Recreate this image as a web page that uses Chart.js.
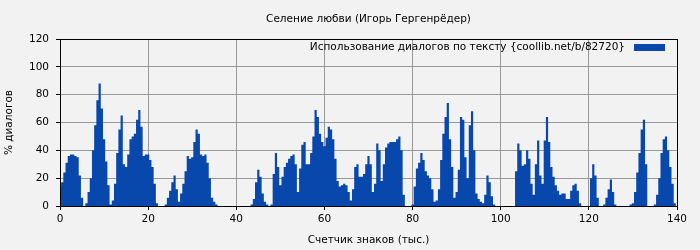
<!DOCTYPE html>
<html>
<head>
<meta charset="utf-8">
<script src="https://cdn.jsdelivr.net/npm/chart.js@4"></script>
<style>
  html, body { margin: 0; padding: 0; background: #f2f2f2; }
  #wrap { width: 700px; height: 250px; }
</style>
</head>
<body>
<div id="wrap"><canvas id="chart" width="700" height="250"></canvas></div>
<script>
const chartTitle = "Селение любви (Игорь Гергенрёдер)";
const seriesName = "Использование диалогов по тексту {coollib.net/b/82720}";
const xTitle = "Счетчик знаков (тыс.)";
const yTitle = "% диалогов";

// one sample every 0.5 thousand characters, from 0 to 140
const step = 0.5;
const dialogShare = [
  14, 17, 24, 31, 36, 37, 37, 36, 35, 22,
  6, 0, 2, 10, 20, 40, 58, 76, 88, 70,
  48, 32, 15, 1, 4, 16, 38, 55, 65, 30,
  28, 37, 48, 50, 52, 62, 69, 57, 36, 37,
  37, 33, 28, 16, 2, 0, 0, 0, 1, 6,
  11, 17, 22, 12, 3, 9, 16, 25, 36, 34,
  35, 46, 55, 52, 37, 36, 37, 31, 20, 6,
  3, 1, 0, 0, 0, 0, 0, 0, 0, 0,
  0, 0, 0, 0, 0, 0, 0, 1, 5, 17,
  26, 21, 9, 3, 1, 0, 1, 23, 38, 28,
  15, 21, 28, 31, 34, 36, 37, 30, 10, 27,
  44, 46, 30, 30, 38, 50, 69, 64, 52, 46,
  43, 49, 57, 55, 48, 34, 18, 14, 15, 16,
  15, 10, 4, 12, 28, 30, 21, 21, 23, 30,
  36, 30, 10, 16, 45, 40, 18, 30, 42, 45,
  46, 46, 46, 48, 50, 40, 8, 0, 0, 0,
  1, 14, 27, 31, 38, 33, 25, 22, 20, 12,
  3, 4, 12, 33, 52, 64, 74, 48, 28, 6,
  10, 26, 64, 62, 35, 20, 58, 68, 40, 9,
  5, 3, 2, 8, 22, 17, 7, 1, 0, 0,
  0, 0, 0, 0, 0, 0, 0, 25, 45, 40,
  29, 30, 40, 34, 16, 8, 30, 47, 22, 16,
  47, 64, 46, 28, 21, 15, 11, 8, 9, 9,
  5, 5, 11, 15, 16, 11, 2, 0, 0, 0,
  0, 20, 30, 22, 6, 0, 0, 1, 6, 12,
  19, 10, 1, 0, 0, 0, 0, 0, 0, 1,
  2, 10, 24, 38, 55, 62, 30, 0, 0, 0,
  1, 8, 20, 38, 48, 50, 40, 28, 16, 2,
  0
];

const FONT = "DejaVu Sans";
const FSIZE = 10.5;
const BLUE = "#0848ad";

// title above the plot and legend (box on the right of the text) inside it
const decorations = {
  id: "decorations",
  afterDraw(chart) {
    const { ctx, chartArea: a } = chart;
    ctx.save();
    ctx.font = FSIZE + "px '" + FONT + "'";
    ctx.fillStyle = "#000";
    ctx.textBaseline = "middle";
    ctx.textAlign = "center";
    ctx.fillText(chartTitle, (a.left + a.right) / 2, 19);
    ctx.textAlign = "right";
    ctx.fillText(seriesName, a.right - 52, a.top + 8);
    ctx.fillStyle = BLUE;
    ctx.fillRect(a.right - 43, a.top + 5, 31, 7);
    // frame
    ctx.strokeStyle = "#000";
    ctx.lineWidth = 1;
    ctx.strokeRect(Math.round(a.left) + 0.5, Math.round(a.top) + 0.5,
      Math.round(a.right - a.left), Math.round(a.bottom - a.top));
    ctx.restore();
  }
};

const points = dialogShare.map((v, i) => ({ x: i * step, y: v }));

new Chart(document.getElementById("chart"), {
  type: "line",
  data: {
    datasets: [{
      label: seriesName,
      data: points,
      stepped: "middle",
      fill: "origin",
      backgroundColor: BLUE,
      borderColor: BLUE,
      borderWidth: 0,
      pointRadius: 0
    }]
  },
  options: {
    responsive: false,
    animation: false,
    layout: { padding: { top: 39, right: 23, left: 0, bottom: 0 } },
    plugins: {
      legend: { display: false },
      title: { display: false },
      tooltip: { enabled: false }
    },
    scales: {
      x: {
        type: "linear",
        min: 0,
        max: 140,
        ticks: { stepSize: 20, color: "#000", padding: 3, font: { family: FONT, size: FSIZE } },
        grid: { color: "#999", borderDash: [3, 3], tickBorderDash: [], tickColor: "#000", tickLength: 4 },
        border: { display: true, color: "#000" },
        title: { display: true, text: xTitle, color: "#000", padding: { top: 0, bottom: 3 }, font: { family: FONT, size: FSIZE } },
        afterFit: (s) => { s.height = 44; }
      },
      y: {
        min: 0,
        max: 120,
        ticks: { stepSize: 20, color: "#000", padding: 7, font: { family: FONT, size: FSIZE } },
        grid: { color: "#999", borderDash: [3, 3], tickBorderDash: [], tickColor: "#000", tickLength: 4 },
        border: { display: true, color: "#000" },
        title: { display: true, text: yTitle, color: "#000", padding: { top: 3, bottom: 0 }, font: { family: FONT, size: FSIZE } },
        afterFit: (s) => { s.width = 60; }
      }
    }
  },
  plugins: [decorations]
});
</script>
</body>
</html>
